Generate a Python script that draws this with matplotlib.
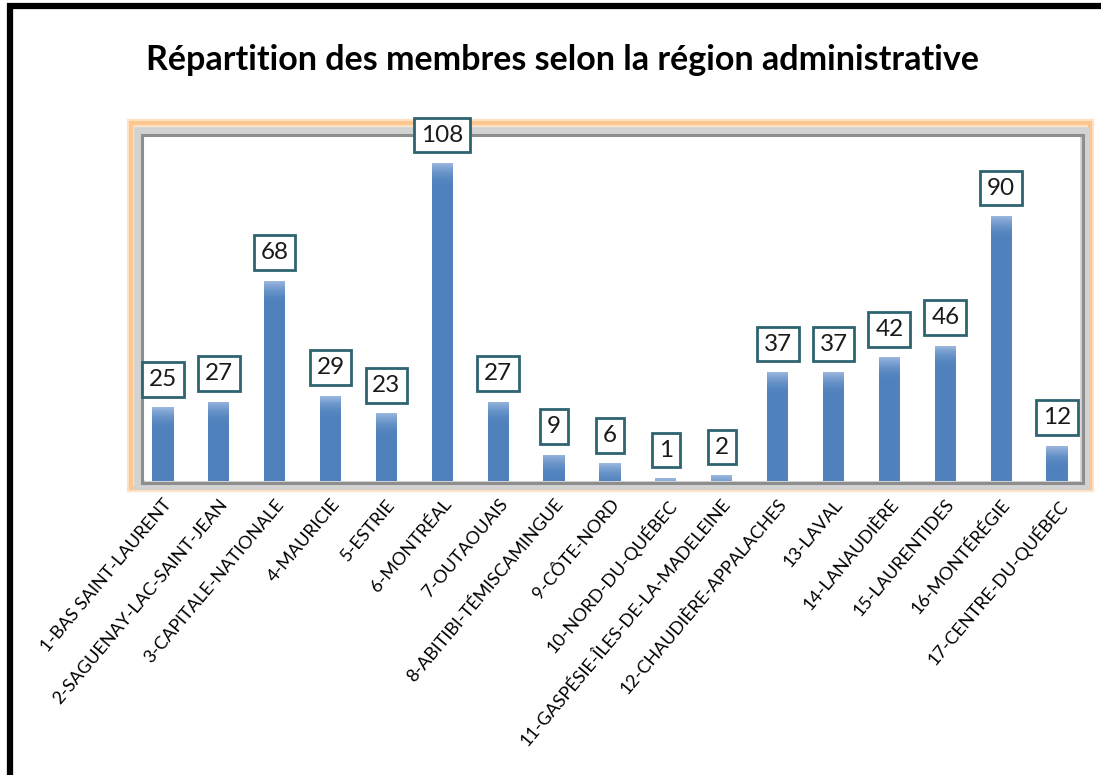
import matplotlib
matplotlib.use("Agg")
import matplotlib.pyplot as plt
import numpy as np
from matplotlib.patches import Rectangle
from matplotlib.colors import to_rgb

# Donnees
regions = [
    "1-BAS SAINT-LAURENT", "2-SAGUENAY-LAC-SAINT-JEAN", "3-CAPITALE-NATIONALE",
    "4-MAURICIE", "5-ESTRIE", "6-MONTRÉAL", "7-OUTAOUAIS",
    "8-ABITIBI-TÉMISCAMINGUE", "9-CÔTE-NORD", "10-NORD-DU-QUÉBEC",
    "11-GASPÉSIE-ÎLES-DE-LA-MADELEINE", "12-CHAUDIÈRE-APPALACHES", "13-LAVAL",
    "14-LANAUDIÈRE", "15-LAURENTIDES", "16-MONTÉRÉGIE", "17-CENTRE-DU-QUÉBEC",
]
membres = [25, 27, 68, 29, 23, 108, 27, 9, 6, 1, 2, 37, 37, 42, 46, 90, 12]

titre = "Répartition des membres selon la région administrative"

plt.rcParams["font.family"] = ["Lato", "DejaVu Sans"]

W, H = 1101, 775
fig = plt.figure(figsize=(W / 100, H / 100), dpi=100)

def px(x0, y0, x1, y1):
    # pixels (origine en haut a gauche) -> coordonnees figure
    return [x0 / W, 1 - y1 / H, (x1 - x0) / W, (y1 - y0) / H]

def cadre(x0, y0, x1, y1, couleur, lw, alpha=1.0):
    l, b, w, h = px(x0, y0, x1, y1)
    fig.patches.append(Rectangle((l, b), w, h, transform=fig.transFigure,
                                 facecolor="none", edgecolor=couleur,
                                 linewidth=lw, alpha=alpha, zorder=0))

# cadre noir autour du graphique (coupe a droite et en bas)
fig.patches.append(Rectangle((10 / W, -0.1), 1.2, 1 - 6 / H + 0.1,
                             transform=fig.transFigure, fill=False,
                             edgecolor="black", linewidth=4.5, zorder=0))

# halo orange + bordure grise en relief
cadre(131, 123, 1090, 488, "#FDE3C6", 6)
cadre(131, 123, 1090, 488, "#FBC78F", 3)
cadre(139, 132, 1085, 485, "#D2D2D2", 7)
cadre(142, 135, 1083, 483, "#8E8E8E", 2.2)

ax = fig.add_axes(px(145, 138, 1080, 481))
ax.set_zorder(1)
x = np.arange(len(membres))
vals = np.array(membres, dtype=float)

bleu = np.array(to_rgb("#4F81BD"))
clair = np.array(to_rgb("#9CB8DF"))
larg = 0.38
ax.bar(x, vals, width=larg, color=bleu, zorder=2)

# degrade en haut des barres : tranches fines
hgrad = 8
n = 24
for k in range(n):
    haut = np.maximum(vals - hgrad * k / n, 0)
    bas = np.maximum(vals - hgrad * (k + 1) / n, 0)
    t = (k + 0.5) / n
    t = 1 - (1 - t) ** 2
    c = clair * (1 - t) + bleu * t
    ax.bar(x, haut - bas, bottom=bas, width=larg, color=c,
           linewidth=0, zorder=3)

# etiquettes de valeur
for xi, v in zip(x, membres):
    ax.annotate(str(v), (xi, v), xytext=(0, 28), textcoords="offset pixels",
                ha="center", va="center", fontsize=17.5, color="#1a1a1a",
                bbox=dict(boxstyle="square,pad=0.28", fc="white",
                          ec="#2E6470", lw=2), zorder=5)

ax.set_xlim(-0.32, 16.41)
ax.set_ylim(0, 116.5)
ax.set_yticks([])
ax.set_xticks(x)
ax.set_xticklabels(regions, rotation=50, ha="right", va="top",
                   rotation_mode="anchor", fontsize=13)
ax.tick_params(axis="x", length=0, pad=11)
for sp in ax.spines.values():
    sp.set_visible(False)

fig.text(0.511, 0.922, titre, ha="center", va="center", fontsize=24.5,
         fontweight="bold", color="black")

fig.savefig("out.png", dpi=100)
